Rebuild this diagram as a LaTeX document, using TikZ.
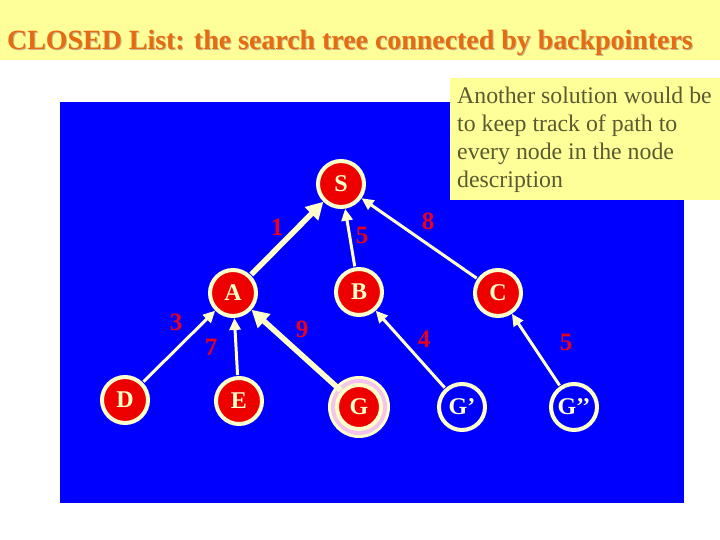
\documentclass[tikz,border=0pt]{standalone}
\usepackage{fontspec}
\setmainfont{Liberation Serif}
\usetikzlibrary{arrows.meta}
\definecolor{titlebg}{HTML}{FFFF99}
\definecolor{titlefg}{HTML}{E66B12}
\definecolor{shadowc}{HTML}{C8B888}
\definecolor{bluebg}{HTML}{0000FF}
\definecolor{cream}{HTML}{FFFFCC}
\definecolor{nodered}{HTML}{EE0000}
\definecolor{labred}{HTML}{E8001C}
\definecolor{olive}{HTML}{5A5A30}
\definecolor{pinkring}{HTML}{F4C4EC}
\tikzset{
  x=1pt, y=-1pt,
  tnode/.style={circle, draw=cream, line width=4pt, fill=nodered, minimum size=46pt, inner sep=0pt,
    text=cream, font=\fontsize{24}{24}\selectfont\bfseries},
  gnode/.style={tnode, fill=bluebg},
  wlab/.style={text=labred, font=\fontsize{25}{25}\selectfont\bfseries, inner sep=0pt},
  thinarrow/.style={draw=cream, line width=3pt, -{Triangle[length=12pt,width=11pt]}, shorten <=1pt},
  thickarrow/.style={draw=cream, line width=5.5pt, -{Triangle[length=17pt,width=18pt]}, shorten <=1pt},
}
\begin{document}
\begin{tikzpicture}
\useasboundingbox (0,0) rectangle (720,540);
\fill[white] (0,0) rectangle (720,540);
% title bar
\fill[titlebg] (0,0) rectangle (720,60);
\node[anchor=base west, inner sep=0pt, text=shadowc, font=\fontsize{27.9}{28}\selectfont\bfseries] at (8,50.5) {CLOSED List: the search tree connected by backpointers};
\node[anchor=base west, inner sep=0pt, text=titlefg, font=\fontsize{27.9}{28}\selectfont\bfseries] (title) at (7,49.5) {CLOSED List: the search tree connected by backpointers};
% blue panel
\fill[bluebg] (60,102) rectangle (684,503);
% note box
\fill[titlebg] (450,78) rectangle (720,200);
\node[anchor=north west, inner sep=0pt, align=left, text=olive, font=\fontsize{23.8}{28}\selectfont] (note) at (457,87) {Another solution would be\\to keep track of path to\\every node in the node\\description};
% G halo
\fill[cream] (359,407) circle (31);
\fill[pinkring] (359,407) circle (28);
% nodes
\node[tnode] (S) at (341,184) {S};
\node[tnode] (A) at (233,293) {A};
\node[tnode] (B) at (359,292) {B};
\node[tnode] (C) at (498,293) {C};
\node[tnode] (D) at (125,400) {D};
\node[tnode] (E) at (239,401) {E};
\node[tnode, minimum size=44pt] (G) at (359,407) {G};
\node[gnode] (G1) at (462,407) {G’};
\node[gnode] (G2) at (574,407) {G’’};
% connectors
\draw[thickarrow] (A) -- (S);
\draw[thinarrow] (B) -- (S);
\draw[thinarrow] (C) -- (S);
\draw[thinarrow] (D) -- (A);
\draw[thinarrow] (E) -- (A);
\draw[thickarrow] (G) -- (A);
\draw[thinarrow] (G1) -- (B);
\draw[thinarrow] (G2) -- (C);
% weights
\node[wlab] (w1) at (277,227) {1};
\node[wlab] (w5a) at (362,235) {5};
\node[wlab] (w8) at (428,221) {8};
\node[wlab] (w3) at (176,322) {3};
\node[wlab] (w7) at (211,347) {7};
\node[wlab] (w9) at (302,329) {9};
\node[wlab] (w4) at (424,339) {4};
\node[wlab] (w5b) at (566,342) {5};
\end{tikzpicture}
\end{document}
